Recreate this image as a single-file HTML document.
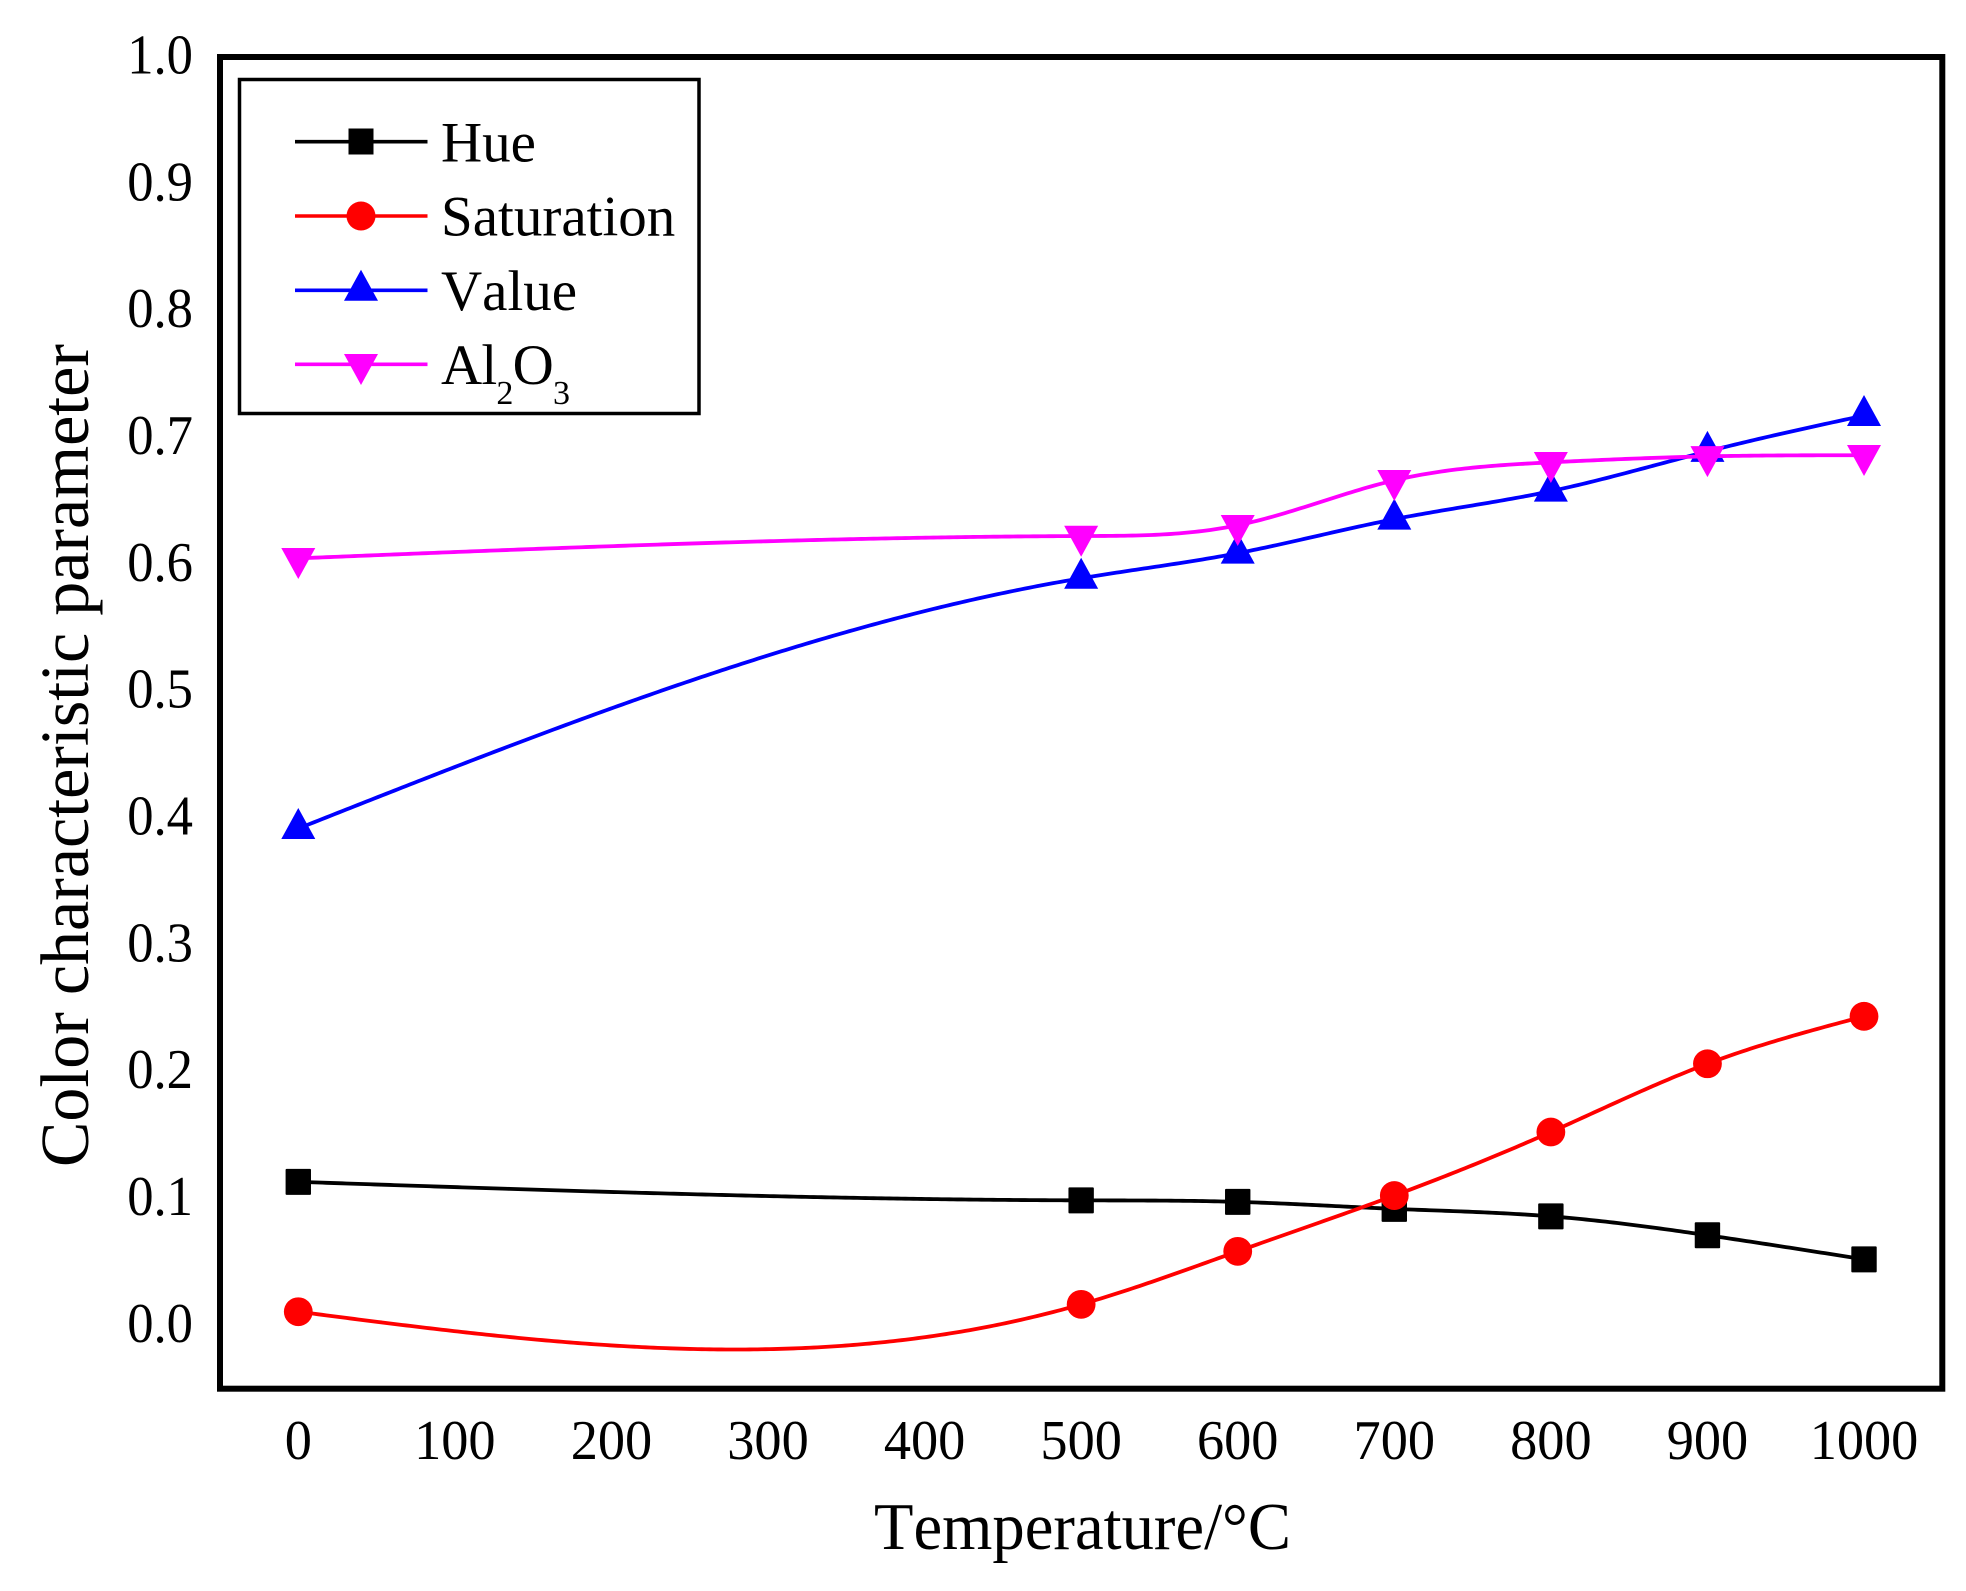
<!DOCTYPE html>
<html lang="en">
<head>
<meta charset="utf-8">
<title>Color characteristic parameter vs temperature</title>
<style>
  html, body { margin: 0; padding: 0; background: #fff; }
  svg { display: block; }
  text { font-family: "Liberation Serif", "Times New Roman", serif; fill: #000; font-kerning: none; }
</style>
</head>
<body>
<svg id="chart" xmlns="http://www.w3.org/2000/svg" width="1966" height="1591" viewBox="0 0 1966 1591">
  <rect x="0" y="0" width="1966" height="1591" fill="#fff"/>
  <g id="x-ticks"></g>
  <g id="y-ticks"></g>
  <g id="series"></g>
  <rect x="220" y="57" width="1722.3" height="1331.7" fill="none" stroke="#000" stroke-width="6"/>

  <g>
    <rect x="239.5" y="79.5" width="459.5" height="334" fill="#fff" stroke="#000" stroke-width="3.5"/>
    <g>
      <line x1="295" y1="141.7" x2="427.5" y2="141.7" stroke="#000" stroke-width="3.6"/>
      <rect x="348.5" y="128.5" width="25" height="26" fill="#000"/>
      <text x="441" y="161.5" font-size="57">Hue</text>
    </g>
    <g>
      <line x1="295" y1="216" x2="427.5" y2="216" stroke="#f00" stroke-width="3.6"/>
      <circle cx="361" cy="216" r="14.5" fill="#f00"/>
      <text x="441" y="235.7" font-size="57">Saturation</text>
    </g>
    <g>
      <line x1="295" y1="290.3" x2="427.5" y2="290.3" stroke="#00f" stroke-width="3.6"/>
      <polygon points="361,269.8 344,300.8 378,300.8" fill="#00f"/>
      <text x="441" y="310" font-size="57">Value</text>
    </g>
    <g>
      <line x1="295" y1="364.3" x2="427.5" y2="364.3" stroke="#f0f" stroke-width="3.6"/>
      <polygon points="361,385 344,354 378,354" fill="#f0f"/>
      <text x="441" y="384" font-size="57" textLength="129" lengthAdjust="spacing">Al<tspan font-size="34" dy="20">2</tspan><tspan dy="-20">O</tspan><tspan font-size="34" dy="20">3</tspan></text>
    </g>
  </g>

  <text transform="translate(88,755.5) rotate(-90)" text-anchor="middle" font-size="69" textLength="823" lengthAdjust="spacingAndGlyphs">Color characteristic parameter</text>
  <text x="1082.5" y="1549" text-anchor="middle" font-size="67" textLength="417" lengthAdjust="spacingAndGlyphs">Temperature/°C</text>
</svg>
<script>
// Chart data
const temperatures = [0, 500, 600, 700, 800, 900, 1000];
const hueValues = [0.1131, 0.0985, 0.0973, 0.0918, 0.0859, 0.0710, 0.0520];
const saturationValues = [0.0107, 0.0165, 0.0583, 0.1023, 0.1524, 0.2062, 0.2436];
const valueValues = [0.3917, 0.5890, 0.6088, 0.6356, 0.6577, 0.6890, 0.7173];
const al2o3Values = [0.6047, 0.6223, 0.6308, 0.6662, 0.6804, 0.6851, 0.6860];
const xTickLabels = ['0', '100', '200', '300', '400', '500', '600', '700', '800', '900', '1000'];
const yTickLabels = ['0.0', '0.1', '0.2', '0.3', '0.4', '0.5', '0.6', '0.7', '0.8', '0.9', '1.0'];

const SVG_NS = 'http://www.w3.org/2000/svg';
const X_MIN = -50, X_MAX = 1050, Y_MIN = -0.05, Y_MAX = 1.0;
const PLOT_LEFT = 220, PLOT_RIGHT = 1942.3, PLOT_TOP = 57, PLOT_BOTTOM = 1388.7;
const X_TICK_CONDENSE = 0.97;
const Y_TICK_CONDENSE = 0.94;

function xScale(v) {
  return PLOT_LEFT + (v - X_MIN) / (X_MAX - X_MIN) * (PLOT_RIGHT - PLOT_LEFT);
}
function yScale(v) {
  return PLOT_BOTTOM - (v - Y_MIN) / (Y_MAX - Y_MIN) * (PLOT_BOTTOM - PLOT_TOP);
}

// Natural cubic spline through the data, matching the smoothed connecting lines.
function splinePath(xs, ys) {
  const n = xs.length;
  const h = [];
  for (let i = 0; i < n - 1; i++) h.push(xs[i + 1] - xs[i]);
  const m = new Array(n).fill(0);
  const c = new Array(n).fill(0);
  const d = new Array(n).fill(0);
  for (let i = 1; i < n - 1; i++) {
    const a = h[i - 1];
    const b = 2 * (h[i - 1] + h[i]);
    const r = 6 * ((ys[i + 1] - ys[i]) / h[i] - (ys[i] - ys[i - 1]) / h[i - 1]);
    const den = b - a * c[i - 1];
    c[i] = h[i] / den;
    d[i] = (r - a * d[i - 1]) / den;
  }
  for (let i = n - 2; i > 0; i--) m[i] = d[i] - c[i] * m[i + 1];
  let path = 'M' + xs[0].toFixed(2) + ' ' + ys[0].toFixed(2);
  for (let i = 0; i < n - 1; i++) {
    const steps = Math.max(4, Math.ceil(h[i] / 4));
    for (let s = 1; s <= steps; s++) {
      const t = s / steps;
      const A = 1 - t;
      const yy = A * ys[i] + t * ys[i + 1] +
        ((A * A * A - A) * m[i] + (t * t * t - t) * m[i + 1]) * h[i] * h[i] / 6;
      path += 'L' + (xs[i] + t * h[i]).toFixed(2) + ' ' + yy.toFixed(2);
    }
  }
  return path;
}

const xTickGroup = document.getElementById('x-ticks');
xTickLabels.forEach(function (label) {
  const el = document.createElementNS(SVG_NS, 'text');
  
  
  el.setAttribute('x', xScale(Number(label)));
  el.setAttribute('y', 1459);
  el.setAttribute('text-anchor', 'middle');
  el.setAttribute('font-size', '56');
  el.textContent = label;
  xTickGroup.appendChild(el);
  el.setAttribute('textLength', el.getComputedTextLength() * X_TICK_CONDENSE);
  el.setAttribute('lengthAdjust', 'spacingAndGlyphs');
});

const yTickGroup = document.getElementById('y-ticks');
yTickLabels.forEach(function (label) {
  const el = document.createElementNS(SVG_NS, 'text');
  
  
  el.setAttribute('x', 193);
  el.setAttribute('y', yScale(Number(label)) + 16.5);
  el.setAttribute('text-anchor', 'end');
  el.setAttribute('font-size', '56');
  el.textContent = label;
  yTickGroup.appendChild(el);
  el.setAttribute('textLength', el.getComputedTextLength() * Y_TICK_CONDENSE);
  el.setAttribute('lengthAdjust', 'spacingAndGlyphs');
});

const seriesGroup = document.getElementById('series');

function drawLine(values, color, width) {
  const xs = temperatures.map(xScale);
  const ys = values.map(yScale);
  const el = document.createElementNS(SVG_NS, 'path');
  
  
  el.setAttribute('d', splinePath(xs, ys));
  el.setAttribute('fill', 'none');
  el.setAttribute('stroke', color);
  el.setAttribute('stroke-width', width);
  seriesGroup.appendChild(el);
}

// Hue
drawLine(hueValues, '#000', 3.8);
hueValues.forEach(function (v, i) {
  const el = document.createElementNS(SVG_NS, 'rect');
  
  
  el.setAttribute('x', xScale(temperatures[i]) - 12.7);
  el.setAttribute('y', yScale(v) - 13);
  el.setAttribute('width', 25.4);
  el.setAttribute('height', 26);
  el.setAttribute('rx', 1);
  el.setAttribute('fill', '#000');
  seriesGroup.appendChild(el);
});

// Saturation
drawLine(saturationValues, '#f00', 3.8);
saturationValues.forEach(function (v, i) {
  const el = document.createElementNS(SVG_NS, 'circle');
  
  
  el.setAttribute('cx', xScale(temperatures[i]));
  el.setAttribute('cy', yScale(v));
  el.setAttribute('r', 14.4);
  el.setAttribute('fill', '#f00');
  seriesGroup.appendChild(el);
});

// Value
drawLine(valueValues, '#00f', 3.8);
valueValues.forEach(function (v, i) {
  const cx = xScale(temperatures[i]);
  const cy = yScale(v);
  const el = document.createElementNS(SVG_NS, 'polygon');
  
  
  el.setAttribute('points', cx + ',' + (cy - 20.5) + ' ' + (cx - 17) + ',' + (cy + 10.5) + ' ' + (cx + 17) + ',' + (cy + 10.5));
  el.setAttribute('fill', '#00f');
  seriesGroup.appendChild(el);
});

// Al2O3
drawLine(al2o3Values, '#f0f', 3.8);
al2o3Values.forEach(function (v, i) {
  const cx = xScale(temperatures[i]);
  const cy = yScale(v);
  const el = document.createElementNS(SVG_NS, 'polygon');
  
  
  el.setAttribute('points', cx + ',' + (cy + 20.7) + ' ' + (cx - 17) + ',' + (cy - 10.3) + ' ' + (cx + 17) + ',' + (cy - 10.3));
  el.setAttribute('fill', '#f0f');
  seriesGroup.appendChild(el);
});
</script>
</body>
</html>
